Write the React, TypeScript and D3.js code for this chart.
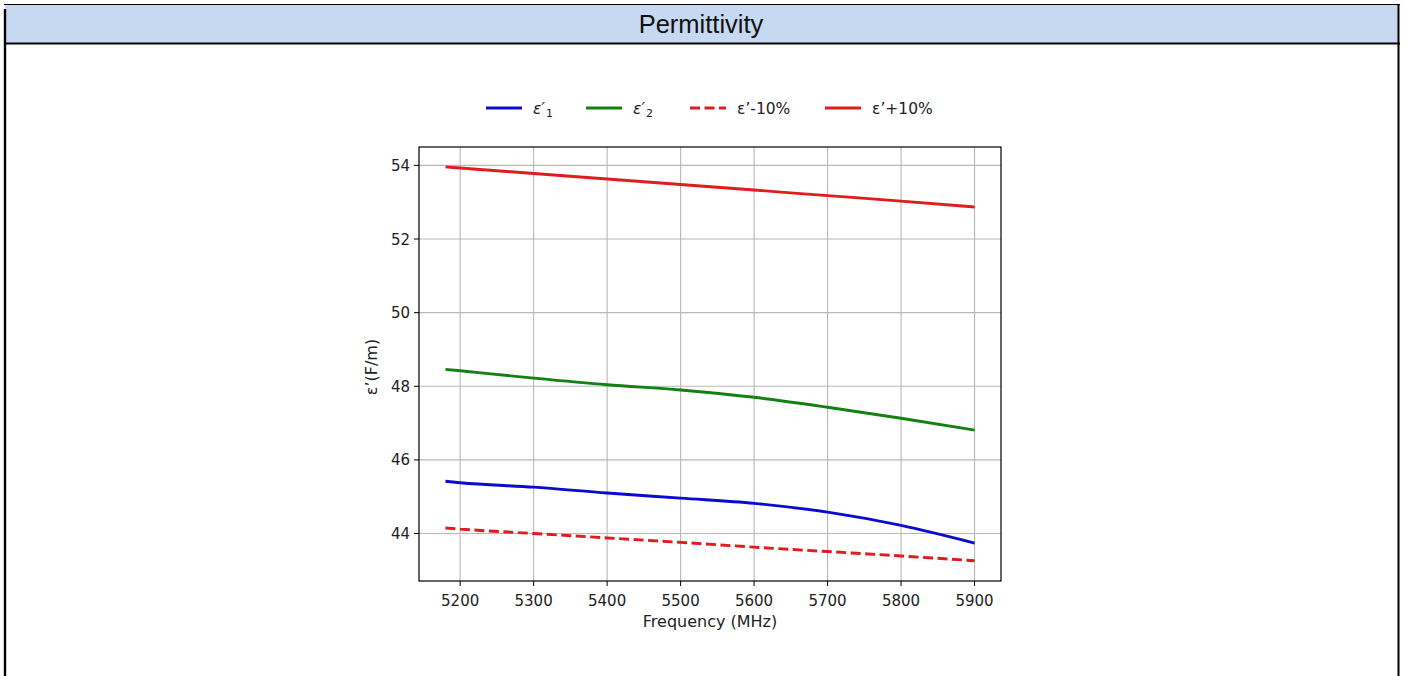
import React, { useRef, useEffect } from 'react';
import * as d3 from 'd3';

const frequencies = [5180, 5200, 5300, 5400, 5500, 5600, 5700, 5800, 5900];
const eps1 = [45.42, 45.38, 45.26, 45.1, 44.96, 44.82, 44.58, 44.22, 43.74];
const eps2 = [48.46, 48.42, 48.22, 48.04, 47.9, 47.7, 47.43, 47.13, 46.81];
const epsMinus10 = [44.15, 44.12, 44.0, 43.88, 43.76, 43.63, 43.51, 43.39, 43.26];
const epsPlus10 = [53.96, 53.93, 53.78, 53.63, 53.48, 53.33, 53.18, 53.03, 52.87];

const xTicks = [5200, 5300, 5400, 5500, 5600, 5700, 5800, 5900];
const yTicks = [44, 46, 48, 50, 52, 54];

const seriesList = [
    { key: 'e1', values: eps1, color: '#0a0ad0', dash: '', label: 'ε′', sub: '1', italic: true },
    { key: 'e2', values: eps2, color: '#138013', dash: '', label: 'ε′', sub: '2', italic: true },
    { key: 'm10', values: epsMinus10, color: '#e01c1c', dash: '10,4.5', label: 'ε’-10%', sub: '', italic: false },
    { key: 'p10', values: epsPlus10, color: '#e01c1c', dash: '', label: 'ε’+10%', sub: '', italic: false },
];

export default function App() {
    const svgRef = useRef<SVGSVGElement | null>(null);

    useEffect(() => {
        const width = 1405;
        const height = 676;
        const plot = { left: 419, right: 1001, top: 147, bottom: 581 };
        const font = 'DejaVu Sans, sans-serif';
        const tickSize = 15;

        d3.select(svgRef.current).selectAll('*').remove();
        const svg = d3.select(svgRef.current).attr('width', width).attr('height', height);

        // page frame + header band
        svg.append('rect').attr('x', 0).attr('y', 0).attr('width', width).attr('height', height).attr('fill', 'white');
        svg.append('rect')
            .attr('x', 5).attr('y', 5).attr('width', 1393).attr('height', 38)
            .attr('fill', '#c6d9f0');
        svg.append('line').attr('x1', 4).attr('x2', 1400).attr('y1', 4.5).attr('y2', 4.5)
            .attr('stroke', 'black').attr('stroke-width', 1.2);
        svg.append('line').attr('x1', 4).attr('x2', 1400).attr('y1', 43.5).attr('y2', 43.5)
            .attr('stroke', 'black').attr('stroke-width', 2.2);
        svg.append('line').attr('x1', 5).attr('x2', 5).attr('y1', 9).attr('y2', height)
            .attr('stroke', 'black').attr('stroke-width', 2.4);
        svg.append('line').attr('x1', 1398.5).attr('x2', 1398.5).attr('y1', 4).attr('y2', height)
            .attr('stroke', 'black').attr('stroke-width', 2);
        svg.append('text')
            .attr('x', 701).attr('y', 33)
            .attr('text-anchor', 'middle')
            .attr('font-family', 'Liberation Sans, Arial, sans-serif')
            .attr('font-size', 25.5)
            .attr('fill', '#111')
            .text('Permittivity');

        const xScale = d3.scaleLinear().domain([5144, 5936]).range([plot.left, plot.right]);
        const yScale = d3.scaleLinear().domain([42.71, 54.5]).range([plot.bottom, plot.top]);

        // grid
        xTicks.forEach((t) => {
            svg.append('line')
                .attr('x1', xScale(t)).attr('x2', xScale(t))
                .attr('y1', plot.top).attr('y2', plot.bottom)
                .attr('stroke', '#b8b8b8').attr('stroke-width', 1.1);
        });
        yTicks.forEach((t) => {
            svg.append('line')
                .attr('x1', plot.left).attr('x2', plot.right)
                .attr('y1', yScale(t)).attr('y2', yScale(t))
                .attr('stroke', '#b8b8b8').attr('stroke-width', 1.1);
        });

        // series
        const line = d3.line<number>()
            .x((_, i) => xScale(frequencies[i]))
            .y((d) => yScale(d))
            .curve(d3.curveMonotoneX);

        seriesList.forEach((s) => {
            svg.append('path')
                .attr('d', line(s.values))
                .attr('fill', 'none')
                .attr('stroke', s.color)
                .attr('stroke-width', 2.9)
                .attr('stroke-dasharray', s.dash || null);
        });

        // spines
        svg.append('rect')
            .attr('x', plot.left).attr('y', plot.top)
            .attr('width', plot.right - plot.left).attr('height', plot.bottom - plot.top)
            .attr('fill', 'none').attr('stroke', 'black').attr('stroke-width', 1.2);

        // ticks
        xTicks.forEach((t) => {
            svg.append('line')
                .attr('x1', xScale(t)).attr('x2', xScale(t))
                .attr('y1', plot.bottom).attr('y2', plot.bottom + 5)
                .attr('stroke', 'black').attr('stroke-width', 1);
            svg.append('text')
                .attr('x', xScale(t)).attr('y', plot.bottom + 25)
                .attr('text-anchor', 'middle')
                .attr('font-family', font).attr('font-size', tickSize).attr('fill', '#222')
                .text(t);
        });
        yTicks.forEach((t) => {
            svg.append('line')
                .attr('x1', plot.left - 5).attr('x2', plot.left)
                .attr('y1', yScale(t)).attr('y2', yScale(t))
                .attr('stroke', 'black').attr('stroke-width', 1);
            svg.append('text')
                .attr('x', plot.left - 9).attr('y', yScale(t) + 5.5)
                .attr('text-anchor', 'end')
                .attr('font-family', font).attr('font-size', tickSize).attr('fill', '#222')
                .text(t);
        });

        // axis labels
        svg.append('text')
            .attr('x', 710).attr('y', 627)
            .attr('text-anchor', 'middle')
            .attr('font-family', font).attr('font-size', 16).attr('fill', '#222')
            .text('Frequency (MHz)');
        svg.append('text')
            .attr('transform', `translate(377, 367) rotate(-90)`)
            .attr('text-anchor', 'middle')
            .attr('font-family', font).attr('font-size', 16).attr('fill', '#222')
            .text('ε’(F/m)');

        // legend
        const legendX = [486, 586, 690, 825];
        const legendY = 108;
        seriesList.forEach((s, i) => {
            const x0 = legendX[i];
            svg.append('line')
                .attr('x1', x0).attr('x2', x0 + 36)
                .attr('y1', legendY).attr('y2', legendY)
                .attr('stroke', s.color).attr('stroke-width', 2.9)
                .attr('stroke-dasharray', s.dash || null);
            const txt = svg.append('text')
                .attr('x', x0 + 47).attr('y', legendY + 5.5)
                .attr('font-family', font).attr('font-size', 15.5).attr('fill', '#222');
            txt.append('tspan')
                .attr('font-style', s.italic ? 'italic' : 'normal')
                .text(s.label);
            if (s.sub) {
                txt.append('tspan')
                    .attr('font-size', 11).attr('dy', 3.5).attr('dx', 1)
                    .text(s.sub);
            }
        });
    }, []);

    return <svg ref={svgRef} style={{ position: 'absolute', left: 0, top: 0, display: 'block' }}></svg>;
}
